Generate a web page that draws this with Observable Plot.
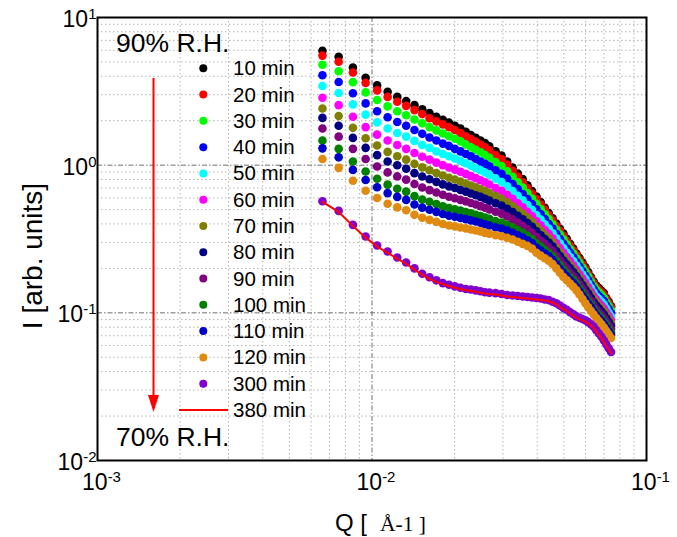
<!DOCTYPE html>
<html><head><meta charset="utf-8">
<script src="https://cdn.jsdelivr.net/npm/d3@7"></script>
<script src="https://cdn.jsdelivr.net/npm/@observablehq/plot@0.6"></script>
<style>
html,body{margin:0;padding:0;background:#fff;}
#chart{width:677px;height:537px;}
</style></head><body><div id="chart"></div>
<script>
// Scattering vector Q (Å^-1), shared by all series
const q = [0.00660, 0.00756, 0.00852, 0.00948, 0.01044, 0.01140, 0.01236, 0.01332, 0.01428, 0.01524,
  0.01620, 0.01716, 0.01812, 0.01908, 0.02004, 0.02100, 0.02196, 0.02292, 0.02388, 0.02484,
  0.02580, 0.02676, 0.02820, 0.02964, 0.03108, 0.03252, 0.03396, 0.03540, 0.03684, 0.03828,
  0.03972, 0.04116, 0.04260, 0.04404, 0.04548, 0.04692, 0.04836, 0.04980, 0.05124, 0.05268,
  0.05412, 0.05556, 0.05700, 0.05844, 0.05988, 0.06132, 0.06276, 0.06420, 0.06564, 0.06708,
  0.06852, 0.06996, 0.07140, 0.07284, 0.07428];

// Intensity I (arb. units) for each time
const i10 = [5.96, 5.42, 4.59, 3.91, 3.47, 3.14, 2.90, 2.72, 2.55, 2.39, 2.25, 2.13, 2.03, 1.94, 1.85, 1.77, 1.68, 1.60, 1.53, 1.47, 1.41, 1.34, 1.24, 1.16, 1.06, 0.964, 0.879, 0.804, 0.731, 0.668, 0.614, 0.562, 0.515, 0.474, 0.437, 0.402, 0.371, 0.344, 0.317, 0.293, 0.272, 0.252, 0.235, 0.219, 0.204, 0.189, 0.175, 0.163, 0.153, 0.147, 0.141, 0.136, 0.126, 0.119, 0.111];
const i20 = [5.52, 5.01, 4.24, 3.61, 3.21, 2.90, 2.69, 2.52, 2.36, 2.22, 2.08, 1.98, 1.89, 1.81, 1.73, 1.65, 1.57, 1.50, 1.44, 1.38, 1.32, 1.26, 1.17, 1.10, 1.01, 0.916, 0.838, 0.767, 0.701, 0.641, 0.590, 0.542, 0.498, 0.458, 0.423, 0.389, 0.360, 0.333, 0.308, 0.285, 0.265, 0.246, 0.229, 0.213, 0.199, 0.184, 0.171, 0.159, 0.149, 0.143, 0.138, 0.132, 0.124, 0.116, 0.109];
const i30 = [4.79, 4.33, 3.65, 3.11, 2.76, 2.50, 2.32, 2.18, 2.04, 1.92, 1.81, 1.72, 1.64, 1.57, 1.51, 1.45, 1.38, 1.32, 1.27, 1.22, 1.17, 1.12, 1.05, 0.986, 0.910, 0.834, 0.766, 0.705, 0.647, 0.594, 0.547, 0.505, 0.465, 0.431, 0.398, 0.366, 0.339, 0.315, 0.291, 0.270, 0.252, 0.234, 0.218, 0.203, 0.190, 0.176, 0.163, 0.152, 0.143, 0.137, 0.132, 0.126, 0.118, 0.111, 0.104];
const i40 = [4.06, 3.66, 3.07, 2.62, 2.32, 2.11, 1.96, 1.85, 1.73, 1.63, 1.54, 1.47, 1.40, 1.35, 1.29, 1.24, 1.19, 1.15, 1.10, 1.06, 1.02, 0.984, 0.923, 0.873, 0.809, 0.746, 0.689, 0.638, 0.589, 0.545, 0.502, 0.465, 0.431, 0.400, 0.372, 0.343, 0.317, 0.294, 0.274, 0.255, 0.238, 0.221, 0.206, 0.192, 0.179, 0.167, 0.155, 0.145, 0.136, 0.130, 0.125, 0.120, 0.112, 0.106, 0.0993];
const i50 = [3.44, 3.08, 2.58, 2.20, 1.95, 1.77, 1.65, 1.56, 1.46, 1.37, 1.31, 1.24, 1.19, 1.15, 1.11, 1.07, 1.03, 0.991, 0.955, 0.925, 0.891, 0.859, 0.811, 0.769, 0.719, 0.668, 0.621, 0.578, 0.537, 0.498, 0.460, 0.428, 0.398, 0.372, 0.346, 0.320, 0.296, 0.275, 0.256, 0.239, 0.224, 0.209, 0.195, 0.182, 0.170, 0.158, 0.147, 0.137, 0.129, 0.124, 0.119, 0.114, 0.107, 0.100, 0.0944];
const i60 = [2.86, 2.55, 2.13, 1.81, 1.61, 1.47, 1.37, 1.29, 1.21, 1.14, 1.09, 1.04, 1.00, 0.964, 0.933, 0.902, 0.873, 0.843, 0.817, 0.791, 0.766, 0.740, 0.701, 0.671, 0.631, 0.592, 0.552, 0.518, 0.484, 0.452, 0.419, 0.391, 0.365, 0.343, 0.320, 0.296, 0.275, 0.256, 0.239, 0.224, 0.210, 0.196, 0.183, 0.171, 0.160, 0.149, 0.139, 0.130, 0.123, 0.117, 0.112, 0.107, 0.101, 0.0951, 0.0893];
const i70 = [2.42, 2.15, 1.79, 1.52, 1.36, 1.23, 1.15, 1.09, 1.02, 0.966, 0.923, 0.885, 0.851, 0.822, 0.800, 0.774, 0.752, 0.729, 0.708, 0.687, 0.667, 0.647, 0.617, 0.593, 0.561, 0.528, 0.497, 0.469, 0.441, 0.413, 0.384, 0.360, 0.337, 0.318, 0.299, 0.276, 0.257, 0.239, 0.224, 0.210, 0.198, 0.186, 0.173, 0.161, 0.151, 0.141, 0.132, 0.124, 0.117, 0.111, 0.107, 0.102, 0.0959, 0.0904, 0.0851];
const i80 = [2.09, 1.85, 1.53, 1.31, 1.17, 1.06, 0.998, 0.946, 0.883, 0.838, 0.802, 0.771, 0.741, 0.718, 0.700, 0.679, 0.662, 0.643, 0.625, 0.610, 0.592, 0.575, 0.552, 0.532, 0.507, 0.481, 0.454, 0.430, 0.406, 0.383, 0.356, 0.335, 0.316, 0.299, 0.281, 0.261, 0.242, 0.226, 0.212, 0.200, 0.188, 0.177, 0.165, 0.154, 0.144, 0.135, 0.126, 0.118, 0.112, 0.107, 0.102, 0.0975, 0.0916, 0.0865, 0.0815];
const i90 = [1.77, 1.56, 1.29, 1.10, 0.979, 0.893, 0.839, 0.798, 0.745, 0.706, 0.678, 0.653, 0.631, 0.611, 0.597, 0.582, 0.569, 0.555, 0.542, 0.528, 0.515, 0.502, 0.484, 0.470, 0.450, 0.430, 0.408, 0.389, 0.370, 0.349, 0.327, 0.308, 0.292, 0.277, 0.262, 0.243, 0.226, 0.211, 0.199, 0.187, 0.177, 0.167, 0.156, 0.146, 0.136, 0.127, 0.120, 0.112, 0.106, 0.101, 0.0968, 0.0925, 0.0871, 0.0822, 0.0776];
const i100 = [1.47, 1.29, 1.06, 0.906, 0.809, 0.738, 0.693, 0.662, 0.617, 0.586, 0.565, 0.546, 0.527, 0.512, 0.502, 0.492, 0.482, 0.472, 0.462, 0.453, 0.442, 0.433, 0.419, 0.409, 0.394, 0.380, 0.363, 0.348, 0.333, 0.316, 0.296, 0.281, 0.267, 0.255, 0.242, 0.225, 0.210, 0.196, 0.185, 0.175, 0.166, 0.157, 0.146, 0.137, 0.128, 0.120, 0.113, 0.106, 0.100, 0.0957, 0.0914, 0.0871, 0.0822, 0.0778, 0.0735];
const i110 = [1.30, 1.13, 0.929, 0.794, 0.708, 0.647, 0.610, 0.582, 0.542, 0.516, 0.499, 0.483, 0.467, 0.454, 0.447, 0.439, 0.431, 0.423, 0.415, 0.407, 0.398, 0.390, 0.379, 0.372, 0.361, 0.349, 0.335, 0.323, 0.310, 0.296, 0.277, 0.264, 0.252, 0.242, 0.229, 0.213, 0.199, 0.187, 0.177, 0.167, 0.159, 0.150, 0.140, 0.131, 0.123, 0.115, 0.109, 0.102, 0.0968, 0.0920, 0.0879, 0.0838, 0.0791, 0.0748, 0.0708];
const i120 = [1.10, 0.959, 0.785, 0.671, 0.600, 0.548, 0.518, 0.495, 0.461, 0.440, 0.426, 0.413, 0.400, 0.390, 0.385, 0.378, 0.373, 0.367, 0.361, 0.356, 0.348, 0.343, 0.335, 0.330, 0.322, 0.314, 0.303, 0.293, 0.284, 0.272, 0.255, 0.244, 0.234, 0.225, 0.214, 0.200, 0.187, 0.175, 0.166, 0.158, 0.150, 0.142, 0.133, 0.124, 0.116, 0.109, 0.103, 0.0975, 0.0923, 0.0877, 0.0836, 0.0796, 0.0753, 0.0713, 0.0675];
const i300 = [0.570, 0.490, 0.394, 0.329, 0.286, 0.260, 0.237, 0.219, 0.200, 0.184, 0.174, 0.166, 0.159, 0.155, 0.151, 0.148, 0.145, 0.144, 0.142, 0.140, 0.138, 0.137, 0.136, 0.134, 0.132, 0.131, 0.130, 0.129, 0.128, 0.127, 0.126, 0.125, 0.123, 0.122, 0.119, 0.116, 0.112, 0.108, 0.105, 0.101, 0.0977, 0.0946, 0.0925, 0.0908, 0.0891, 0.0865, 0.0836, 0.0804, 0.0762, 0.0724, 0.0689, 0.0649, 0.0610, 0.0575, 0.0543];
const i380 = [0.565, 0.482, 0.388, 0.323, 0.281, 0.255, 0.233, 0.215, 0.196, 0.181, 0.170, 0.162, 0.156, 0.152, 0.148, 0.145, 0.142, 0.141, 0.139, 0.137, 0.135, 0.134, 0.133, 0.131, 0.129, 0.128, 0.127, 0.126, 0.125, 0.124, 0.123, 0.122, 0.121, 0.120, 0.117, 0.114, 0.110, 0.106, 0.103, 0.0990, 0.0958, 0.0928, 0.0907, 0.0890, 0.0873, 0.0848, 0.0820, 0.0788, 0.0747, 0.0710, 0.0675, 0.0636, 0.0598, 0.0564, 0.0532];

const dotNames = ["10 min", "20 min", "30 min", "40 min", "50 min", "60 min", "70 min", "80 min", "90 min", "100 min", "110 min", "120 min", "300 min"];
const dotColors = ["#000000", "#ff0000", "#00ff00", "#0000ff", "#00ffff", "#ff00ff", "#808000", "#000080", "#800080", "#008000", "#0000c8", "#e08a10", "#8000d0"];
const lineName = "380 min";
const lineColor = "#ff0000";

const xTicks = [0.001, 0.01, 0.1];
const yTicks = [0.01, 0.1, 1, 10];
const xMinor = [0.002, 0.003, 0.004, 0.005, 0.006, 0.007, 0.008, 0.009, 0.02, 0.03, 0.04, 0.05, 0.06, 0.07, 0.08, 0.09];
const yMinor = [0.02, 0.03, 0.04, 0.05, 0.06, 0.07, 0.08, 0.09, 0.2, 0.3, 0.4, 0.5, 0.6, 0.7, 0.8, 0.9, 2, 3, 4, 5, 6, 7, 8, 9];
const xMajorGrid = [0.01];
const yMajorGrid = [0.1, 1];

const dotSeries = [i10, i20, i30, i40, i50, i60, i70, i80, i90, i100, i110, i120, i300];
const points = [];
dotSeries.forEach((arr, s) => arr.forEach((v, k) => points.push({q: q[k], I: v, series: dotNames[s]})));
const line380 = i380.map((v, k) => ({q: q[k], I: v, series: lineName}));

const sans = "'Liberation Sans', Arial, sans-serif";
const expFmt = d => "10^" + Math.round(Math.log10(d));

const plot = Plot.plot({
  width: 677, height: 537,
  marginLeft: 97, marginRight: 31, marginTop: 17, marginBottom: 77,
  style: {fontFamily: sans, fontSize: "23px", background: "#fff", color: "#000", overflow: "visible"},
  x: {type: "log", domain: [1e-3, 1e-1], label: null},
  y: {type: "log", domain: [1e-2, 1e1], label: null},
  color: {domain: dotNames, range: dotColors},
  marks: [
    Plot.gridX({ticks: xMinor, stroke: "#b4b4b4", strokeOpacity: 1, strokeWidth: 1, strokeDasharray: "1.5,2.5"}),
    Plot.gridY({ticks: yMinor, stroke: "#b4b4b4", strokeOpacity: 1, strokeWidth: 1, strokeDasharray: "1.5,2.5"}),
    Plot.gridX({ticks: xMajorGrid, stroke: "#707070", strokeOpacity: 1, strokeWidth: 1, strokeDasharray: "5,2,1.5,2"}),
    Plot.gridY({ticks: yMajorGrid, stroke: "#707070", strokeOpacity: 1, strokeWidth: 1, strokeDasharray: "5,2,1.5,2"}),
    Plot.dot(points, {x: "q", y: "I", fill: "series", r: 4.3}),
    Plot.line(line380, {x: "q", y: "I", stroke: lineColor, strokeWidth: 2}),
    Plot.axisX({ticks: xTicks, tickSize: 0, tickPadding: 13, dx: 4, tickFormat: expFmt, fontSize: 23, label: null}),
    Plot.axisY({ticks: yTicks, tickSize: 0, tickPadding: 1, dy: 2, tickFormat: expFmt, fontSize: 23, label: null}),
    Plot.frame({stroke: "#000", strokeWidth: 2})
  ]
});
document.getElementById("chart").appendChild(plot);
const svg = plot.tagName.toLowerCase() === "svg" ? plot : plot.querySelector("svg");
const NS = "http://www.w3.org/2000/svg";

// superscript exponents on tick labels
svg.querySelectorAll("text").forEach(t => {
  const m = /^10\^(-?\d+)$/.exec(t.textContent);
  if (!m) return;
  t.textContent = "";
  const a = document.createElementNS(NS, "tspan");
  a.textContent = "10";
  t.appendChild(a);
  const b = document.createElementNS(NS, "tspan");
  b.textContent = m[1];
  b.setAttribute("font-size", "15");
  b.setAttribute("dy", "-8");
  t.appendChild(b);
});

const s = d3.select(svg);
const ann = s.append("g").attr("font-family", sans).attr("fill", "#000").attr("text-anchor", "start");
ann.append("text").attr("x", 116).attr("y", 52).attr("font-size", 26.5).text("90% R.H.");
ann.append("text").attr("x", 116).attr("y", 446).attr("font-size", 26.5).text("70% R.H.");
// arrow from 90% to 70%
ann.append("line").attr("x1", 153.5).attr("x2", 153.5).attr("y1", 78).attr("y2", 398)
  .attr("stroke", "#ff0000").attr("stroke-width", 2);
ann.append("path").attr("d", "M148,395 L159,395 L153.5,412 Z").attr("fill", "#ff0000");

// legend
const legY0 = 68.3, legStep = 26.28;
dotNames.forEach((name, k) => {
  const y = legY0 + k * legStep;
  ann.append("circle").attr("cx", 203.3).attr("cy", y).attr("r", 4).attr("fill", dotColors[k]);
  ann.append("text").attr("x", 233).attr("y", y + 7).attr("font-size", 20.5).text(name);
});
{
  const y = legY0 + dotNames.length * legStep;
  ann.append("line").attr("x1", 179).attr("x2", 228).attr("y1", y).attr("y2", y)
    .attr("stroke", lineColor).attr("stroke-width", 2);
  ann.append("text").attr("x", 233).attr("y", y + 7).attr("font-size", 20.5).text(lineName);
}

// axis titles
const xl = ann.append("text").attr("y", 531);
xl.append("tspan").attr("x", 335).attr("font-family", sans).attr("font-size", 24).text("Q [");
xl.append("tspan").attr("x", 380).attr("font-family", "'Liberation Serif', 'Times New Roman', serif").attr("font-size", 21.5).text("Å-1 ]");
ann.append("text").attr("transform", "translate(42,256) rotate(-90)").attr("text-anchor", "middle")
  .attr("font-size", 28).text("I [arb. units]");
</script>
</body></html>
